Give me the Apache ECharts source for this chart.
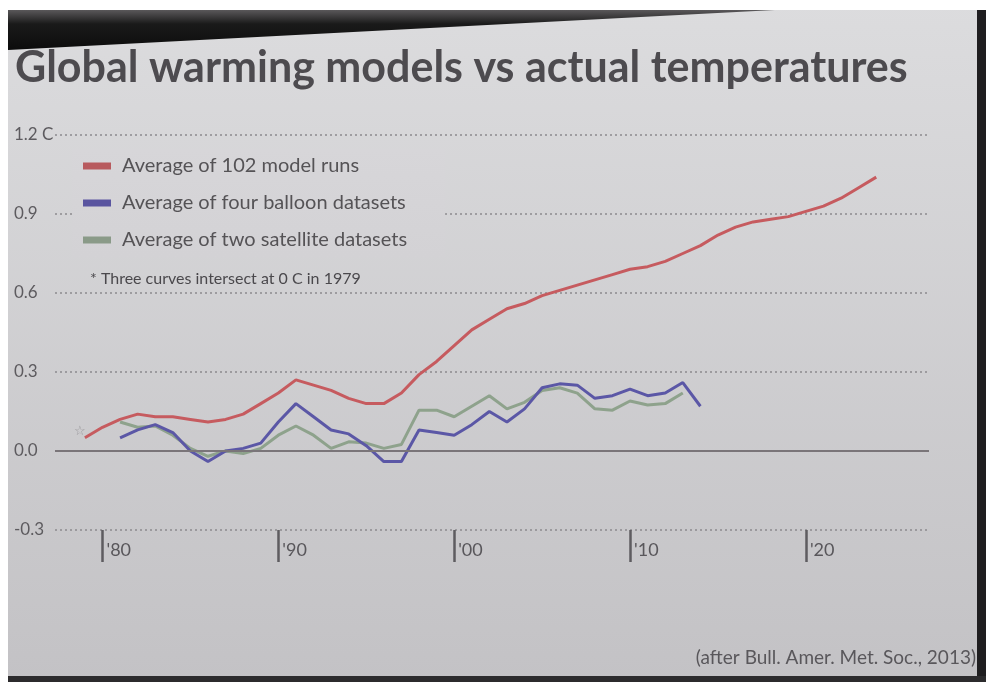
<!DOCTYPE html>
<html>
<head>
<meta charset="utf-8">
<title>Global warming models vs actual temperatures</title>
<script src="https://cdn.jsdelivr.net/npm/echarts@6/dist/echarts.min.js"></script>
<style>
  html, body { margin: 0; padding: 0; background: #fff; }
  #chart { width: 986px; height: 682px; }
</style>
</head>
<body>
<div id="chart"></div>
<script>
  // years for each curve
  var modelYears = [];
  for (var y = 1979; y <= 2024; y++) modelYears.push(y);
  var balloonYears = [];
  for (var y2 = 1981; y2 <= 2014; y2++) balloonYears.push(y2);
  var satelliteYears = [];
  for (var y3 = 1981; y3 <= 2013; y3++) satelliteYears.push(y3);

  // values (deg C)
  var modelRuns = [0.05, 0.09, 0.12, 0.14, 0.13, 0.13, 0.12, 0.11, 0.12, 0.14,
                   0.18, 0.22, 0.27, 0.25, 0.23, 0.20, 0.18, 0.18, 0.22, 0.29,
                   0.34, 0.40, 0.46, 0.50, 0.54, 0.56, 0.59, 0.61, 0.63, 0.65,
                   0.67, 0.69, 0.70, 0.72, 0.75, 0.78, 0.82, 0.85, 0.87, 0.88,
                   0.89, 0.91, 0.93, 0.96, 1.00, 1.04];
  var balloon = [0.05, 0.08, 0.10, 0.07, 0.00, -0.04, 0.00, 0.01, 0.03, 0.11,
                 0.18, 0.13, 0.08, 0.065, 0.02, -0.04, -0.04, 0.08, 0.07, 0.06,
                 0.10, 0.15, 0.11, 0.16, 0.24, 0.255, 0.25, 0.20, 0.21, 0.235,
                 0.21, 0.22, 0.26, 0.17];
  var satellite = [0.11, 0.09, 0.095, 0.06, 0.01, -0.02, 0.00, -0.01, 0.01, 0.06,
                   0.095, 0.06, 0.01, 0.035, 0.03, 0.01, 0.025, 0.155, 0.155, 0.13,
                   0.17, 0.21, 0.16, 0.185, 0.23, 0.24, 0.22, 0.16, 0.155, 0.19,
                   0.175, 0.18, 0.22];

  var xTicks = [1980, 1990, 2000, 2010, 2020];

  var names = ['Average of 102 model runs', 'Average of four balloon datasets', 'Average of two satellite datasets'];

  function pairs(xs, vs) {
    return xs.map(function (x, i) { return [x, vs[i]]; });
  }

  var myChart = echarts.init(document.getElementById('chart'));
  var font = 'Lato, "Open Sans", sans-serif';

  myChart.setOption({
    animation: false,
    // slide colour
    backgroundColor: new echarts.graphic.LinearGradient(0, 0, 0, 1, [
      { offset: 0, color: '#dcdcde' },
      { offset: 1, color: '#c3c2c5' }
    ]),
    textStyle: { fontFamily: font },
    title: {
      text: 'Global warming models vs actual temperatures',
      left: 10,
      top: 42,
      textStyle: { fontFamily: font, fontWeight: 'bold', fontSize: 43, color: '#4d4b4f' }
    },
    legend: {
      data: names,
      orient: 'vertical',
      left: 72,
      top: 149,
      padding: [6, 38, 6, 11],
      itemGap: 15,
      itemWidth: 28,
      itemHeight: 7,
      icon: 'rect',
      selectedMode: false,
      // same slide colour over the box height, so it only hides the 0.9 line
      backgroundColor: new echarts.graphic.LinearGradient(0, 0, 0, 1, [
        { offset: 0, color: '#d7d6d9' },
        { offset: 1, color: '#d3d2d5' }
      ]),
      textStyle: { fontFamily: font, fontSize: 20, lineHeight: 22, color: '#555356', padding: [0, 0, 0, 6] }
    },
    grid: {
      left: 55,
      right: 57,
      top: 135,
      bottom: 152
    },
    xAxis: {
      type: 'value',
      min: 1977.3,
      max: 2027,
      axisLine: { show: false, onZero: false },
      splitLine: { show: false },
      axisTick: {
        show: true,
        customValues: xTicks,
        length: 32,
        lineStyle: { color: '#5e5c60', width: 2.5 }
      },
      axisLabel: {
        customValues: xTicks,
        margin: 11,
        align: 'left',
        padding: [0, 0, 0, 4],
        fontFamily: font,
        fontSize: 18,
        color: '#59575b',
        formatter: function (v) { return "'" + String(v).slice(2); }
      }
    },
    yAxis: {
      type: 'value',
      min: -0.3,
      max: 1.2,
      interval: 0.3,
      axisLine: { show: false },
      axisTick: { show: false },
      axisLabel: {
        margin: 41,
        align: 'left',
        fontFamily: font,
        fontSize: 17,
        color: '#5d5b5f',
        formatter: function (v) {
          if (Math.abs(v - 1.2) < 1e-6) return '1.2 C';
          return v.toFixed(1);
        }
      },
      splitLine: {
        show: true,
        lineStyle: { color: '#8c8a8e', width: 1.5, type: [2, 3] }
      }
    },
    graphic: [
      // photo frame: white margins and dark edges of the screen
      { type: 'rect', shape: { x: 0, y: 0, width: 986, height: 10 }, style: { fill: '#ffffff' } },
      { type: 'rect', shape: { x: 0, y: 0, width: 8, height: 682 }, style: { fill: '#ffffff' } },
      {
        type: 'polygon',
        shape: { points: [[8, 10], [775, 10], [8, 50]] },
        style: {
          fill: new echarts.graphic.LinearGradient(0, 0, 0, 1, [
            { offset: 0, color: '#5a585a' },
            { offset: 0.35, color: '#1a1a1a' },
            { offset: 1, color: '#0c0c0c' }
          ])
        }
      },
      { type: 'rect', shape: { x: 977, y: 10, width: 9, height: 672 }, style: { fill: '#1f1e20' } },
      { type: 'rect', shape: { x: 8, y: 676, width: 978, height: 6 }, style: { fill: '#2c2b2d' } },
      {
        type: 'text',
        left: 90,
        top: 271,
        style: {
          text: '* Three curves intersect at 0 C in 1979',
          font: '16px ' + font,
          fill: '#4a484c'
        }
      },
      {
        type: 'text',
        right: 10,
        top: 648,
        style: {
          text: '(after Bull. Amer. Met. Soc., 2013)',
          font: '19px ' + font,
          fill: '#59575b'
        }
      }
    ],
    series: [
      {
        name: names[0],
        type: 'line',
        data: pairs(modelYears, modelRuns),
        showSymbol: false,
        lineStyle: { width: 3, color: '#c65b5f' },
        itemStyle: { color: '#b85a5e' },
        markLine: {
          silent: true,
          symbol: 'none',
          label: { show: false },
          lineStyle: { type: 'solid', color: '#7a7579', width: 2 },
          data: [{ yAxis: 0 }]
        },
        markPoint: {
          silent: true,
          symbolSize: 0,
          label: { show: true, formatter: '\u2606', color: '#9a989c', fontSize: 13 },
          data: [{ coord: [1978.7, 0.075] }]
        }
      },
      {
        name: names[2],
        type: 'line',
        data: pairs(satelliteYears, satellite),
        showSymbol: false,
        lineStyle: { width: 3, color: '#8ea28c' },
        itemStyle: { color: '#8a9a88' }
      },
      {
        name: names[1],
        type: 'line',
        data: pairs(balloonYears, balloon),
        showSymbol: false,
        lineStyle: { width: 3, color: '#5b57a6' },
        itemStyle: { color: '#5a55a0' }
      }
    ]
  });

  window.onresize = myChart.resize;
</script>
</body>
</html>
